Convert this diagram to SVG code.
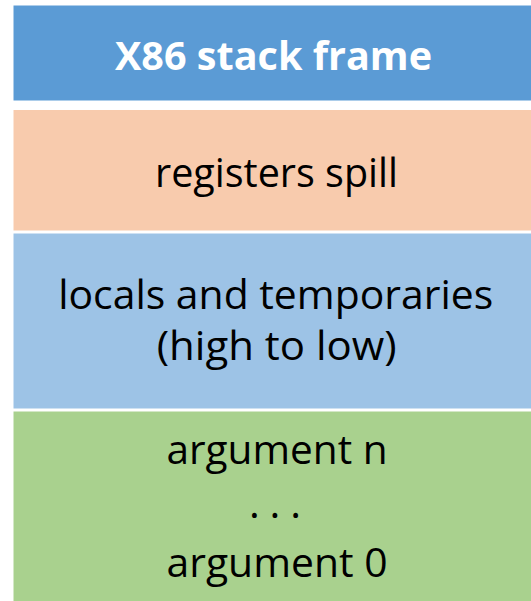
<svg xmlns="http://www.w3.org/2000/svg" width="531" height="601" viewBox="0 0 531 601">
  <style>
    .box { stroke: #ffffff; stroke-width: 1; }
    .label { font-family: "Open Sans", "Noto Sans", "Liberation Sans", sans-serif; font-size: 41px; fill: #000000; text-anchor: middle; }
    .title { font-family: "Open Sans", "Noto Sans", "Liberation Sans", sans-serif; font-size: 40px; font-weight: bold; fill: #ffffff; text-anchor: middle; }
  </style>
  <rect width="531" height="601" fill="#ffffff"/>

  <!-- stack frame header -->
  <g id="header">
    <rect class="box" x="13" y="5" width="530" height="96" fill="#5B9BD5"/>
    <text class="title" x="273.5" y="70" textLength="317" lengthAdjust="spacingAndGlyphs">X86 stack frame</text>
  </g>

  <!-- callee-saved register spill area -->
  <g id="registers-spill">
    <rect class="box" x="13" y="109.5" width="530" height="121.5" fill="#F8CBAD"/>
    <text class="label" x="276.5" y="186.5" textLength="243" lengthAdjust="spacingAndGlyphs">registers spill</text>
  </g>

  <!-- local variables and temporaries -->
  <g id="locals">
    <rect class="box" x="13" y="233" width="530" height="176" fill="#9DC3E6"/>
    <text class="label" x="275.7" y="309" textLength="435" lengthAdjust="spacingAndGlyphs">locals and temporaries</text>
    <text class="label" x="276.7" y="360" textLength="240" lengthAdjust="spacingAndGlyphs">(high to low)</text>
  </g>

  <!-- outgoing arguments -->
  <g id="arguments">
    <rect class="box" x="13" y="411" width="530" height="200" fill="#A9D18E"/>
    <text class="label" x="277" y="463.5" textLength="221" lengthAdjust="spacingAndGlyphs">argument n</text>
    <text class="label" x="275" y="518" textLength="52" lengthAdjust="spacing">. . .</text>
    <text class="label" x="277" y="577" textLength="221" lengthAdjust="spacingAndGlyphs">argument 0</text>
  </g>

  <g id="connectors"/>
</svg>
